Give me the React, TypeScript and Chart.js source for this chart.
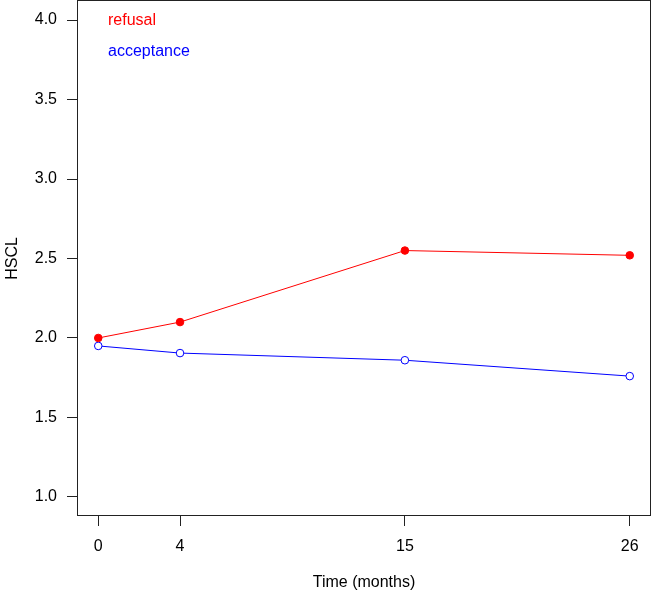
import React, { useEffect, useRef } from "react";
import { Chart, registerables } from "chart.js";

Chart.register(...registerables);

const timePoints = [0, 4, 15, 26];
const refusalValues = [2.0, 2.1, 2.55, 2.52];
const acceptanceValues = [1.95, 1.905, 1.86, 1.76];
const yTickValues = [1.0, 1.5, 2.0, 2.5, 3.0, 3.5, 4.0];
const legendLabels = ["refusal", "acceptance"];
const legendColors = ["#ff0000", "#0000ff"];

const FONT = "'Liberation Sans', Arial, Helvetica, sans-serif";

const boxAndLegend = {
  id: "boxAndLegend",
  afterDraw(chart: any) {
    const { ctx, chartArea } = chart;
    ctx.save();
    ctx.strokeStyle = "#222222";
    ctx.lineWidth = 1;
    ctx.strokeRect(
      Math.round(chartArea.left) + 0.5,
      Math.round(chartArea.top) - 0.5,
      Math.round(chartArea.right - chartArea.left) - 1,
      Math.round(chartArea.bottom - chartArea.top)
    );
    ctx.font = `16px ${FONT}`;
    ctx.textAlign = "left";
    ctx.textBaseline = "alphabetic";
    legendLabels.forEach((label, i) => {
      ctx.fillStyle = legendColors[i];
      ctx.fillText(label, chartArea.left + 31, chartArea.top + 24 + i * 30.5);
    });
    ctx.restore();
  },
};

export default function App() {
  const canvasRef = useRef<HTMLCanvasElement | null>(null);

  useEffect(() => {
    document.body.style.margin = "0";
    const canvas = canvasRef.current;
    if (!canvas) return;
    const chart = new Chart(canvas, {
      type: "line",
      data: {
        datasets: [
          {
            label: legendLabels[0],
            data: timePoints.map((t, i) => ({ x: t, y: refusalValues[i] })),
            borderColor: legendColors[0],
            backgroundColor: legendColors[0],
            borderWidth: 1,
            pointRadius: 3.8,
            pointBorderWidth: 1,
            pointBackgroundColor: legendColors[0],
            pointBorderColor: legendColors[0],
            tension: 0,
          },
          {
            label: legendLabels[1],
            data: timePoints.map((t, i) => ({ x: t, y: acceptanceValues[i] })),
            borderColor: legendColors[1],
            backgroundColor: "rgba(0,0,0,0)",
            borderWidth: 1,
            pointRadius: 3.8,
            pointBorderWidth: 1,
            pointBackgroundColor: "#ffffff",
            pointBorderColor: legendColors[1],
            tension: 0,
          },
        ],
      },
      options: {
        responsive: false,
        animation: false,
        events: [],
        layout: { autoPadding: false, padding: { top: 1, right: 2, left: 0, bottom: 0 } },
        plugins: {
          legend: { display: false },
          tooltip: { enabled: false },
        },
        scales: {
          x: {
            type: "linear",
            min: -1.04,
            max: 27.04,
            afterBuildTicks: (scale: any) => {
              scale.ticks = timePoints.map((v) => ({ value: v }));
            },
            afterFit: (scale: any) => {
              scale.height = 80;
              scale.paddingLeft = 0;
              scale.paddingRight = 0;
            },
            grid: {
              display: true,
              drawOnChartArea: false,
              drawTicks: true,
              tickLength: 10,
              color: "#222222",
              lineWidth: 1,
            },
            border: { display: false },
            ticks: {
              color: "#000000",
              font: { family: FONT, size: 16 },
              padding: 11,
              maxRotation: 0,
              autoSkip: false,
              callback: (v: any) => String(v),
            },
            title: {
              display: true,
              text: "Time (months)",
              color: "#000000",
              font: { family: FONT, size: 16 },
              padding: { top: 0, bottom: 4 },
            },
          },
          y: {
            type: "linear",
            min: 0.88,
            max: 4.12,
            afterBuildTicks: (scale: any) => {
              scale.ticks = yTickValues.map((v) => ({ value: v }));
            },
            afterFit: (scale: any) => {
              scale.width = 77;
              scale.paddingTop = 0;
              scale.paddingBottom = 0;
            },
            grid: {
              display: true,
              drawOnChartArea: false,
              drawTicks: true,
              tickLength: 10,
              color: "#222222",
              lineWidth: 1,
            },
            border: { display: false },
            ticks: {
              color: "#000000",
              font: { family: FONT, size: 16 },
              padding: 10,
              autoSkip: false,
              callback: (v: any) => Number(v).toFixed(1),
            },
            title: {
              display: true,
              text: "HSCL",
              color: "#000000",
              font: { family: FONT, size: 16 },
              padding: { top: 3, bottom: 0 },
            },
          },
        },
      },
      plugins: [boxAndLegend],
    });
    return () => chart.destroy();
  }, []);

  return (
    <div style={{ position: "absolute", left: 0, top: 0, width: 653, height: 596, background: "#ffffff" }}>
      <canvas ref={canvasRef} width={653} height={596} style={{ display: "block" }} />
    </div>
  );
}
